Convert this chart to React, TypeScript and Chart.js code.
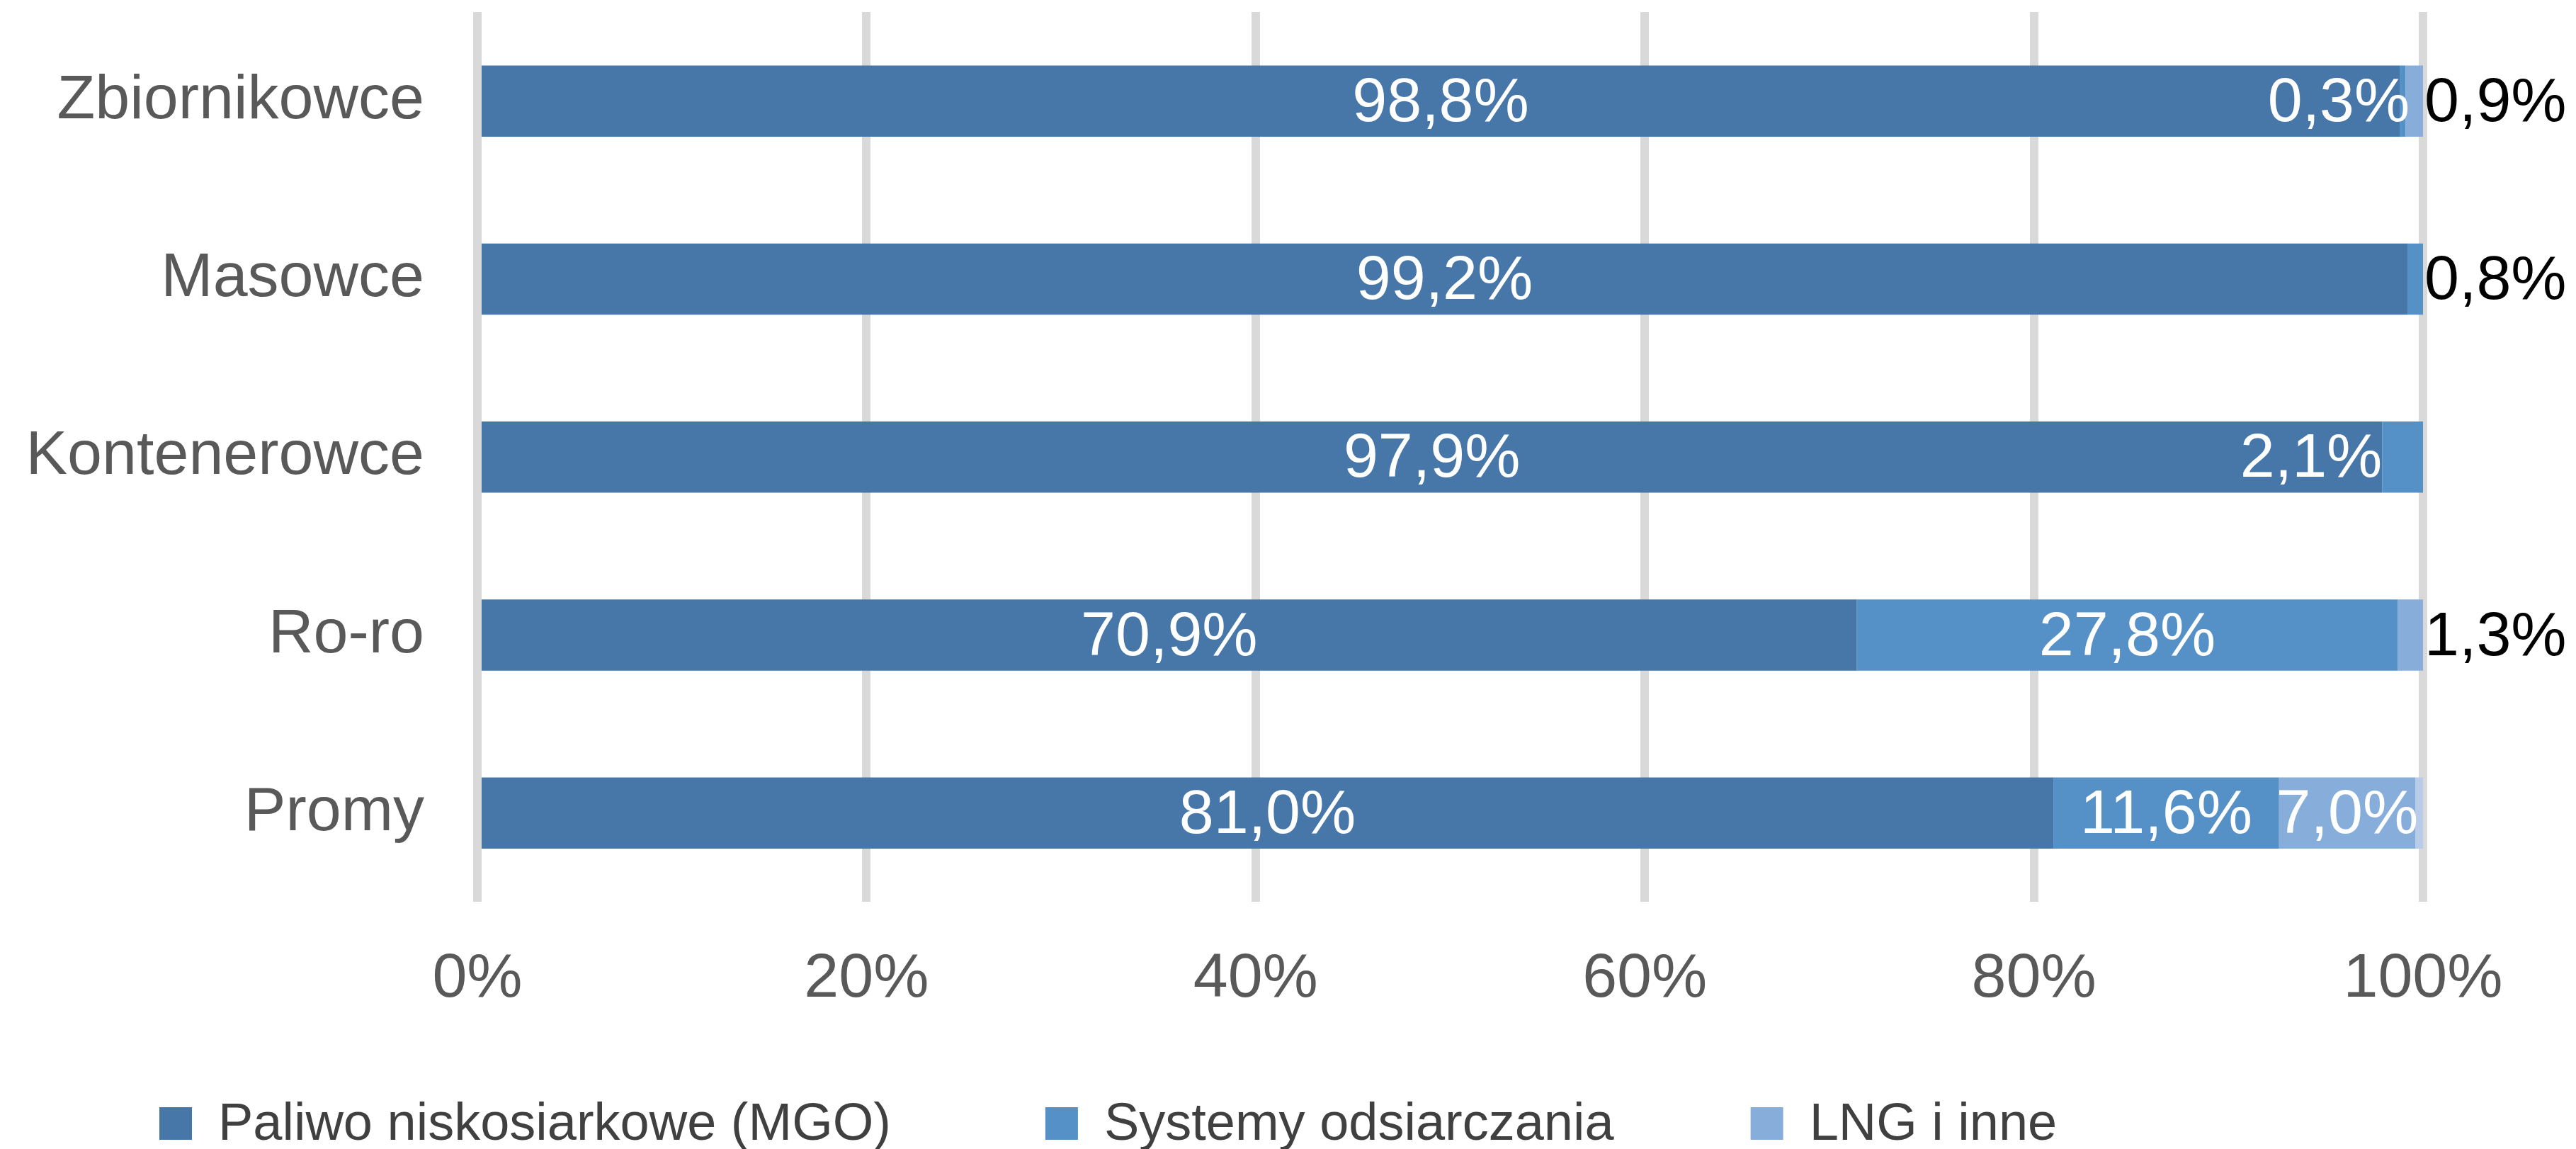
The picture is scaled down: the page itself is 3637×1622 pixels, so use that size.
import React, { useEffect, useRef } from 'react';
import { Chart, registerables } from 'chart.js';

Chart.register(...registerables);

const categories = ['Zbiornikowce', 'Masowce', 'Kontenerowce', 'Ro-ro', 'Promy'];
const seriesNames = ['Paliwo niskosiarkowe (MGO)', 'Systemy odsiarczania', 'LNG i inne'];
const mgoValues = [98.8, 99.2, 97.9, 70.9, 81.0];
const scrubberValues = [0.3, 0.8, 2.1, 27.8, 11.6];
const lngValues = [0.9, 0, 0, 1.3, 7.0];
const remainderValues = [0, 0, 0, 0, 0.4];
const xTickValues = [0, 20, 40, 60, 80, 100];

// label placement per series: c = centred, e = right-aligned at segment end,
// b = right-aligned at segment start, o = outside the bar, '' = none
const labelModes = [
  ['c', 'c', 'c', 'c', 'c'],
  ['e', 'o', 'b', 'c', 'c'],
  ['o', '', '', 'o', 'c'],
];

const COLORS = ['#4677a8', '#5591c7', '#87aedb', '#b8cce9'];
const FONT = '"Liberation Sans", Arial, sans-serif';
const W = 3637;
const H = 1622;

const fmt = (v: number) => v.toFixed(1).replace('.', ',') + '%';

const barLabelPlugin = {
  id: 'barLabels',
  afterDatasetsDraw(chart: any) {
    const ctx = chart.ctx;
    const xScale = chart.scales.x;
    ctx.save();
    ctx.font = `88px ${FONT}`;
    ctx.textBaseline = 'middle';
    labelModes.forEach((modes, di) => {
      const meta = chart.getDatasetMeta(di);
      const values = chart.data.datasets[di].data;
      meta.data.forEach((el: any, i: number) => {
        const mode = modes[i];
        const v = values[i];
        if (!mode || !v) return;
        const { x, y, base } = el.getProps(['x', 'y', 'base'], true);
        let tx = x;
        let align = 'center';
        let color = '#ffffff';
        if (mode === 'c') {
          tx = (x + base) / 2;
        } else if (mode === 'e') {
          tx = x + 6;
          align = 'right';
        } else if (mode === 'b') {
          tx = base;
          align = 'right';
        } else {
          tx = xScale.getPixelForValue(100) + 2;
          align = 'left';
          color = '#000000';
        }
        ctx.textAlign = align;
        ctx.fillStyle = color;
        ctx.fillText(fmt(v), tx, y + 4);
      });
    });
    ctx.restore();
  },
};

const legendPlugin = {
  id: 'spacedLegend',
  afterDraw(chart: any) {
    const ctx = chart.ctx;
    ctx.save();
    ctx.font = `74px ${FONT}`;
    ctx.textBaseline = 'middle';
    ctx.textAlign = 'left';
    const box = 46;
    const textGap = 37;
    const itemGaps = [218, 193];
    const cy = 1586;
    let x = 225;
    seriesNames.forEach((name, i) => {
      ctx.fillStyle = COLORS[i];
      ctx.fillRect(x, cy - box / 2, box, box);
      ctx.fillStyle = '#404040';
      const tx = x + box + textGap;
      ctx.fillText(name, tx, cy + 3);
      x = tx + ctx.measureText(name).width + (itemGaps[i] || 0);
    });
    ctx.restore();
  },
};

export default function App() {
  const ref = useRef<HTMLCanvasElement>(null);

  useEffect(() => {
    if (!ref.current) return;
    const seriesData = [mgoValues, scrubberValues, lngValues, remainderValues];
    const chart = new Chart(ref.current, {
      type: 'bar',
      data: {
        labels: categories,
        datasets: seriesData.map((d, i) => ({
          label: i < seriesNames.length ? seriesNames[i] : '',
          data: d,
          backgroundColor: COLORS[i],
          borderWidth: 0,
          barPercentage: 0.4,
          categoryPercentage: 1,
        })),
      },
      options: {
        indexAxis: 'y',
        responsive: false,
        animation: false,
        layout: { padding: { top: 17, right: 216, left: 0, bottom: 129 } },
        plugins: {
          legend: { display: false },
          tooltip: { enabled: false },
        },
        scales: {
          x: {
            stacked: true,
            min: 0,
            max: 100,
            afterBuildTicks: (scale: any) => {
              scale.ticks = xTickValues.map((v) => ({ value: v }));
            },
            ticks: {
              callback: (v: any) => v + '%',
              font: { size: 88, family: FONT },
              color: '#595959',
              padding: 57,
              autoSkip: false,
              maxRotation: 0,
            },
            grid: { color: '#d9d9d9', lineWidth: 12, drawTicks: false },
            border: { display: false },
          },
          y: {
            stacked: true,
            grid: { display: false, drawTicks: false },
            border: { display: false },
            ticks: {
              font: { size: 88, family: FONT },
              color: '#595959',
              padding: 75,
            },
            afterFit: (scale: any) => {
              scale.width = 674;
              scale.paddingTop = 0;
              scale.paddingBottom = 0;
            },
          },
        },
      },
      plugins: [barLabelPlugin, legendPlugin],
    });
    return () => chart.destroy();
  }, []);

  return (
    <div style={{ position: 'fixed', left: 0, top: 0, width: W, height: H, background: '#ffffff' }}>
      <canvas ref={ref} width={W} height={H} style={{ width: W, height: H, display: 'block' }} />
    </div>
  );
}
